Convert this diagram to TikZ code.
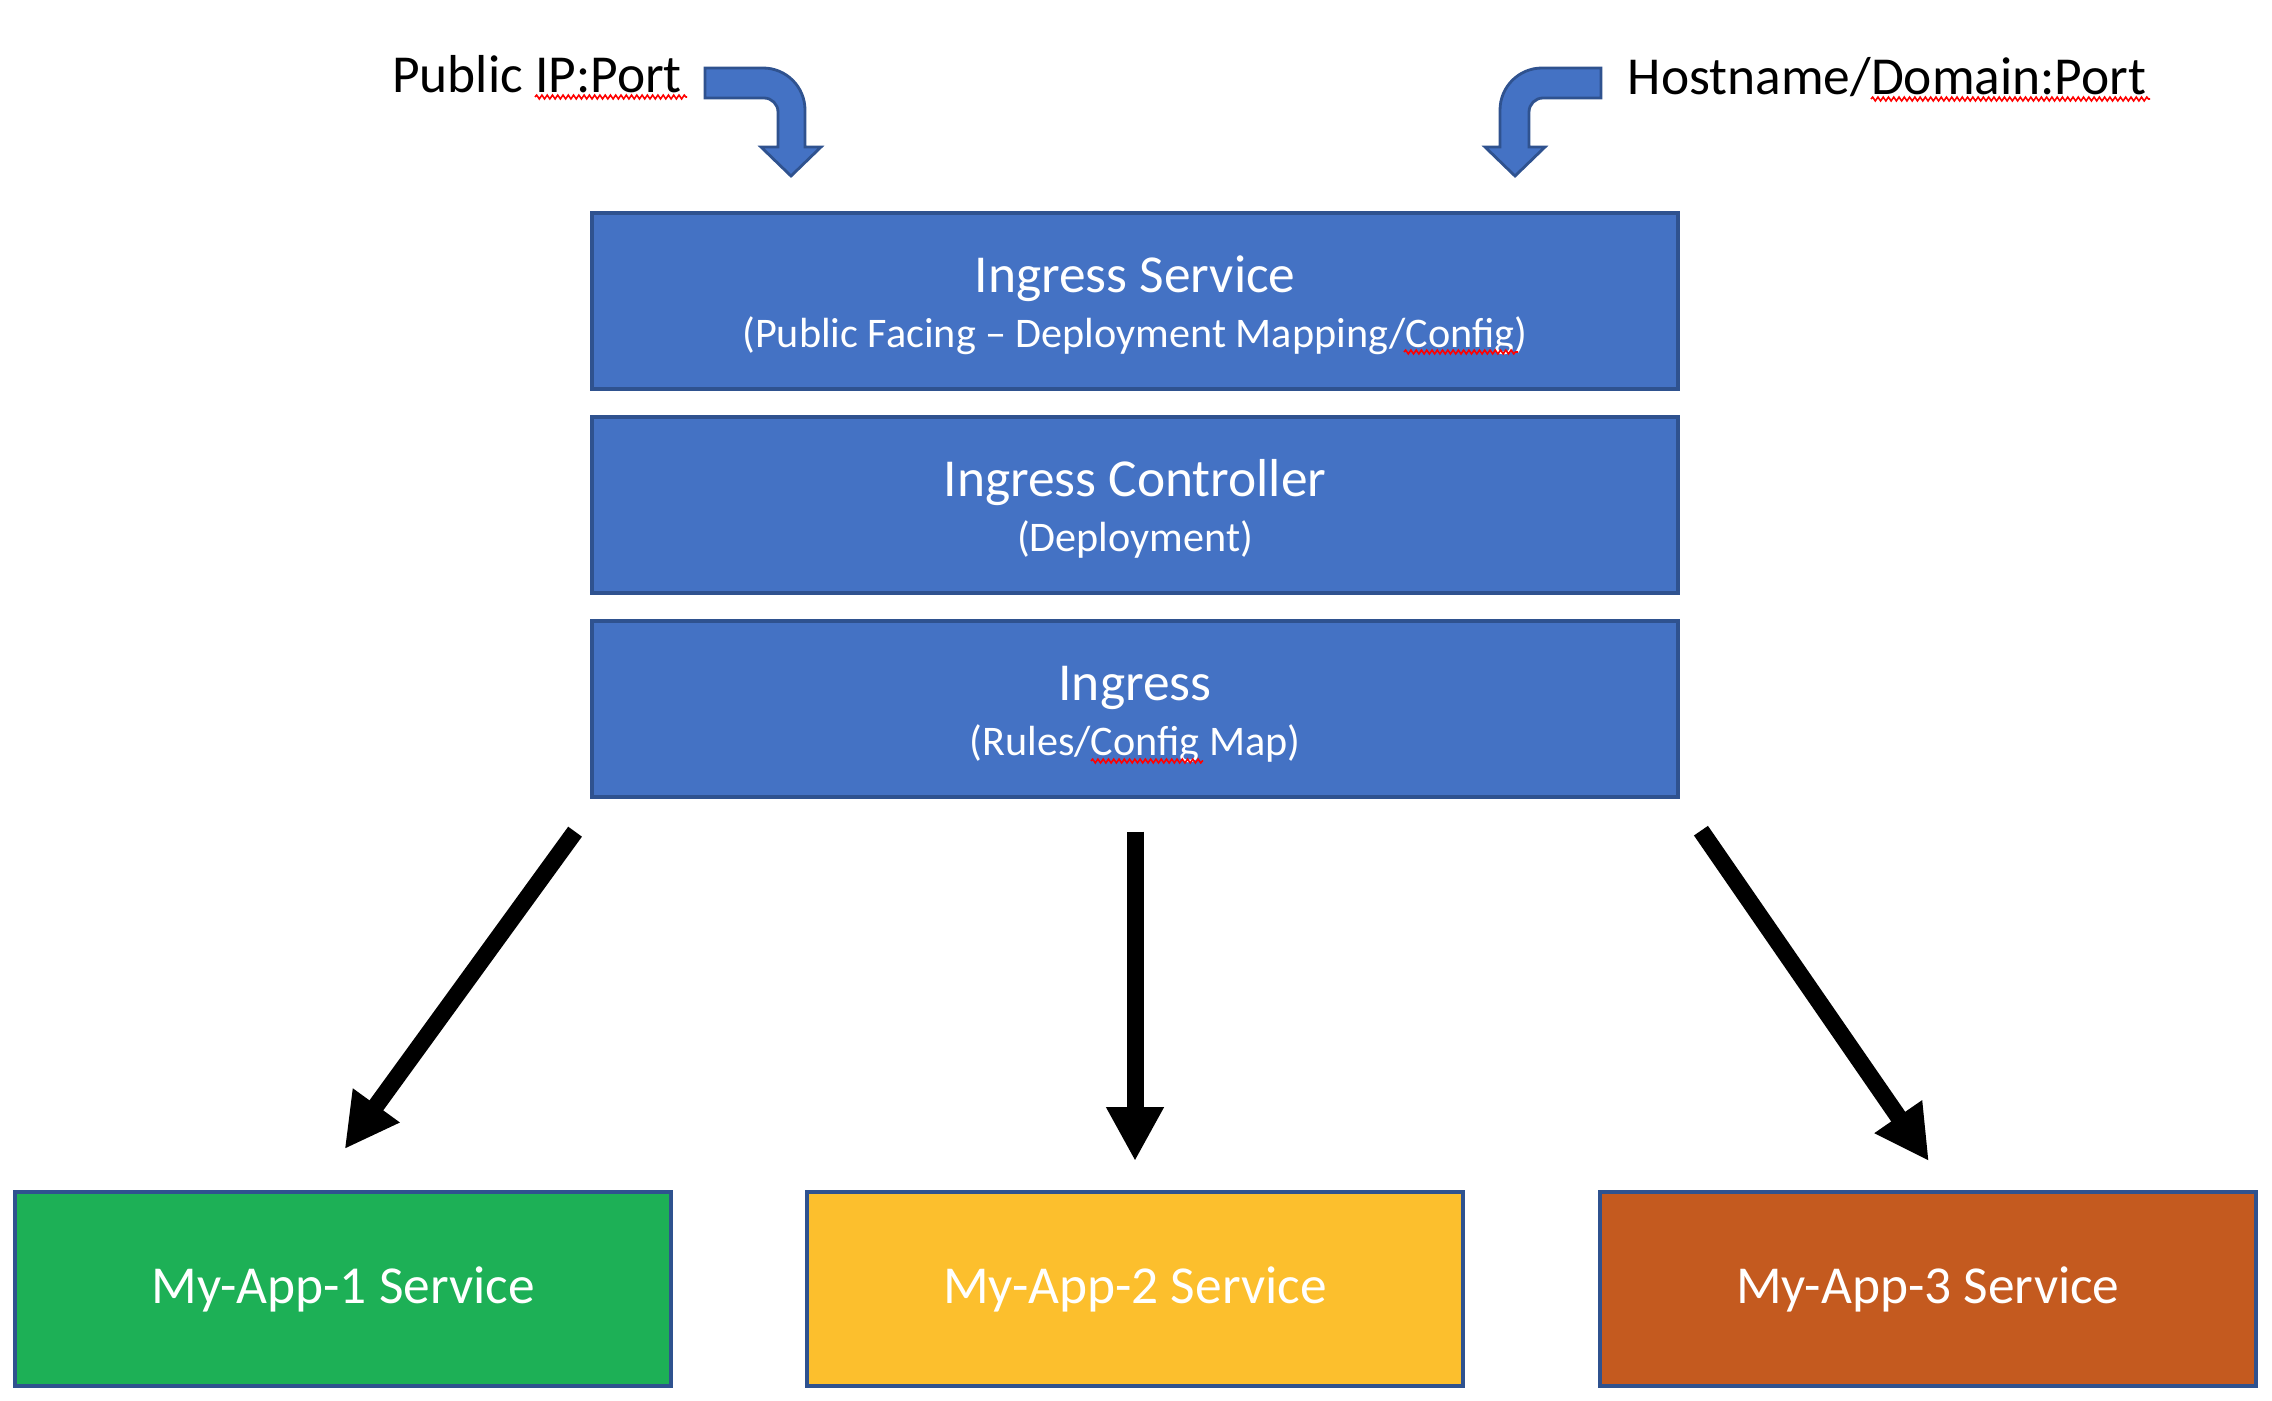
\documentclass[tikz,border=0pt]{standalone}
\usepackage{fontspec}
\setmainfont{Carlito}
\usetikzlibrary{positioning, arrows.meta, calc, decorations.pathmorphing}

\definecolor{layerblue}{HTML}{4472C4}
\definecolor{edgeblue}{HTML}{2F528F}
\definecolor{appgreen}{HTML}{1DB056}
\definecolor{appyellow}{HTML}{FCBF2D}
\definecolor{apporange}{HTML}{C45A1F}

\newcommand{\subline}[1]{{\fontsize{12}{14}\selectfont #1}}

\begin{document}
\begin{tikzpicture}[
  layer/.style={draw=edgeblue, line width=1.1pt, fill=layerblue, text=white,
    align=center, minimum width=10.86cm, minimum height=1.76cm, inner sep=0pt,
    text height=1.02cm, text depth=0.09cm,
    font=\fontsize{15.2}{15.6}\selectfont},
  appbox/.style={draw=edgeblue, line width=1.1pt, text=white,
    minimum width=6.56cm, minimum height=1.94cm, font=\fontsize{15.2}{18}\selectfont},
  toplabel/.style={anchor=base, inner sep=0pt, font=\fontsize{15.2}{18}\selectfont},
  flow/.style={line width=0.17cm, -{Triangle[length=0.54cm, width=0.54cm]}},
  turnarrow/.style={fill=layerblue, draw=edgeblue, line width=0.8pt},
  spell/.style={red, line width=0.45pt, decorate,
    decoration={snake, amplitude=0.55pt, segment length=1.5pt}}
]

\useasboundingbox (0,0) rectangle (22.72,-14.00);

% --- Entry labels ---
\node[toplabel] (pubip) at (5.37,-0.93) {Public IP:Port};
\node[toplabel] (host) at (18.87,-0.95) {Hostname/Domain:Port};

% --- Turning arrows ---
\draw[turnarrow] (7.05,-0.68) -- (7.63,-0.68) arc[start angle=90, end angle=0, radius=0.42]
  -- (8.05,-1.47) -- (8.21,-1.47) -- (7.91,-1.76) -- (7.61,-1.47) -- (7.78,-1.47)
  -- (7.78,-1.12) arc[start angle=0, end angle=90, radius=0.14] -- (7.05,-0.98) -- cycle;
\draw[turnarrow] (16.01,-0.68) -- (15.42,-0.68) arc[start angle=90, end angle=180, radius=0.42]
  -- (15.00,-1.47) -- (14.85,-1.47) -- (15.15,-1.76) -- (15.45,-1.47) -- (15.29,-1.47)
  -- (15.29,-1.12) arc[start angle=180, end angle=90, radius=0.14] -- (16.01,-0.98) -- cycle;

% --- Ingress stack ---
\node[layer] (svc) at (11.35,-3.01)
  {Ingress Service\\\subline{(Public Facing – Deployment Mapping/Config)}};
\node[layer, below=0.24cm of svc] (ctl)
  {Ingress Controller\\\subline{(Deployment)}};
\node[layer, below=0.24cm of ctl] (ing)
  {Ingress\\\subline{(Rules/Config Map)}};

% --- Backend services ---
\node[appbox, fill=appyellow] (app2) at (11.35,-12.89) {My-App-2 Service};
\node[appbox, fill=appgreen, left=1.32cm of app2] (app1) {My-App-1 Service};
\node[appbox, fill=apporange, right=1.33cm of app2] (app3) {My-App-3 Service};

% --- Routing arrows ---
\draw[flow] ($(ing.south west)+(-0.15,-0.33)$) -- ($(app1.north)+(0.015,0.41)$);
\draw[flow] ($(ing.south)+(0,-0.33)$) -- ($(app2.north)+(0,0.29)$);
\draw[flow] ($(ing.south east)+(0.21,-0.32)$) -- ($(app3.north)+(0.01,0.29)$);

% --- Spell-check marks ---
\draw[spell] (5.35,-0.97) -- (6.87,-0.97);
\draw[spell] (18.71,-0.99) -- (21.50,-0.99);
\draw[spell] (14.04,-3.52) -- (15.18,-3.52);
\draw[spell] (10.91,-7.61) -- (12.03,-7.61);

\end{tikzpicture}
\end{document}
